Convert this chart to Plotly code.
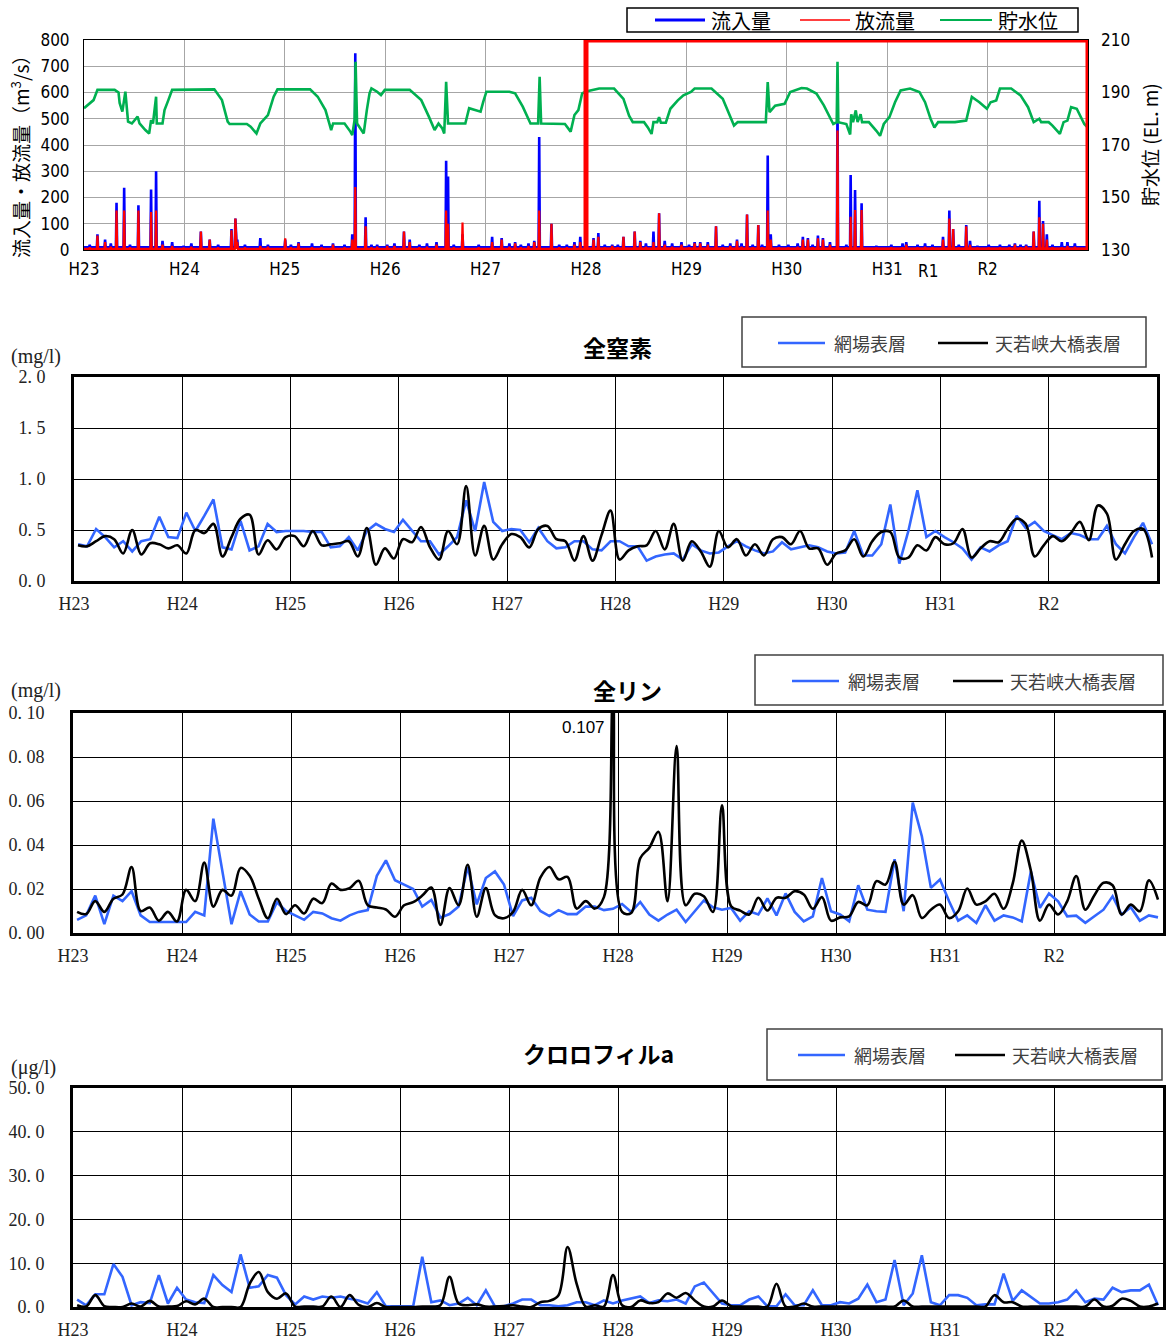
import plotly.graph_objects as go

W, H = 1167, 1342


def X(p):
    return p / W


def Y(p):
    return 1 - p / H


YEARS = list(range(2011, 2021))
YEAR_LABELS = ["H23", "H24", "H25", "H26", "H27", "H28", "H29", "H30", "H31", "R2"]

# ---------------- top panel: inflow / outflow (m3/s) and reservoir level (EL.m)
# (decimal year, inflow peak, outflow peak)
FLOW_EVENTS = [
    (2011.057, 20, 10), (2011.134, 60, 55), (2011.21, 40, 30), (2011.267, 25, 12),
    (2011.324, 180, 150), (2011.40, 237, 150), (2011.458, 20, 10), (2011.542, 170, 150),
    (2011.668, 230, 145), (2011.718, 300, 150), (2011.782, 35, 20), (2011.878, 30, 15),
    (2011.992, 15, 8), (2012.069, 25, 12), (2012.164, 70, 70), (2012.252, 40, 40),
    (2012.336, 20, 10), (2012.469, 80, 75), (2012.508, 120, 120), (2012.527, 40, 30),
    (2012.603, 20, 10), (2012.756, 45, 15), (2012.832, 20, 12), (2013.004, 40, 45),
    (2013.061, 20, 10), (2013.137, 30, 25), (2013.271, 25, 10), (2013.366, 20, 10),
    (2013.48, 25, 20), (2013.595, 20, 10), (2013.672, 60, 40), (2013.702, 750, 240),
    (2013.805, 125, 90), (2013.863, 20, 10), (2013.92, 20, 12), (2014.02, 20, 15),
    (2014.092, 25, 15), (2014.187, 70, 70), (2014.244, 40, 30), (2014.34, 20, 10),
    (2014.416, 25, 12), (2014.511, 30, 20), (2014.607, 340, 150), (2014.626, 280, 100),
    (2014.683, 20, 10), (2014.77, 60, 105), (2014.931, 20, 10), (2015.065, 50, 30),
    (2015.16, 45, 40), (2015.237, 25, 12), (2015.294, 30, 25), (2015.351, 20, 10),
    (2015.427, 25, 15), (2015.485, 35, 30), (2015.534, 430, 150), (2015.656, 100, 100),
    (2015.733, 20, 10), (2015.809, 20, 10), (2015.885, 30, 20), (2015.943, 50, 30),
    (2016.075, 45, 40), (2016.123, 65, 50), (2016.187, 20, 10), (2016.261, 20, 15),
    (2016.317, 20, 10), (2016.373, 50, 50), (2016.485, 70, 70), (2016.541, 35, 30),
    (2016.597, 25, 12), (2016.672, 70, 30), (2016.728, 140, 140), (2016.784, 35, 20),
    (2016.858, 25, 12), (2016.951, 30, 20), (2017.026, 20, 10), (2017.082, 30, 25),
    (2017.138, 30, 25), (2017.213, 30, 20), (2017.295, 90, 90), (2017.362, 20, 10),
    (2017.437, 25, 15), (2017.504, 40, 35), (2017.549, 25, 12), (2017.604, 135, 135),
    (2017.66, 20, 10), (2017.716, 95, 95), (2017.754, 20, 10), (2017.81, 360, 150),
    (2017.84, 60, 40), (2017.922, 20, 10), (2018.015, 20, 10), (2018.108, 25, 12),
    (2018.16, 50, 40), (2018.21, 45, 40), (2018.257, 20, 10), (2018.31, 55, 45),
    (2018.36, 45, 40), (2018.43, 30, 20), (2018.505, 585, 455), (2018.593, 20, 10),
    (2018.636, 286, 127), (2018.68, 229, 152), (2018.745, 178, 152), (2018.892, 15, 8),
    (2019.041, 20, 10), (2019.153, 25, 10), (2019.19, 30, 20), (2019.302, 20, 10),
    (2019.377, 25, 12), (2019.451, 20, 10), (2019.556, 50, 40), (2019.619, 150, 120),
    (2019.657, 80, 80), (2019.713, 20, 10), (2019.787, 95, 90), (2019.825, 35, 20),
    (2019.899, 15, 8), (2020.011, 20, 10), (2020.123, 20, 10), (2020.216, 20, 10),
    (2020.272, 25, 20), (2020.328, 20, 10), (2020.384, 20, 15), (2020.459, 70, 70),
    (2020.515, 188, 125), (2020.552, 110, 100), (2020.59, 60, 40), (2020.646, 20, 10),
    (2020.739, 30, 10), (2020.795, 30, 15), (2020.869, 25, 12),
]
INFLOW_BASE = 10
OUTFLOW_BASE = 4

# (decimal year, level EL.m)
LEVEL = [
    (2011.0, 184.0), (2011.095, 187.1), (2011.134, 191.0), (2011.305, 191.0), (2011.344, 190.0),
    (2011.355, 186.0), (2011.382, 182.7), (2011.412, 190.3), (2011.439, 178.9), (2011.477, 178.2),
    (2011.534, 180.8), (2011.553, 178.2), (2011.611, 175.7), (2011.649, 174.4), (2011.668, 179.5),
    (2011.687, 178.2), (2011.718, 188.4), (2011.725, 178.2), (2011.782, 178.2), (2011.802, 183.3),
    (2011.84, 187.1), (2011.878, 191.0), (2012.298, 191.2), (2012.374, 187.1), (2012.431, 178.9),
    (2012.45, 178.0), (2012.622, 178.0), (2012.66, 177.0), (2012.718, 174.4), (2012.756, 178.2),
    (2012.832, 181.4), (2012.889, 188.4), (2012.927, 191.2), (2013.252, 191.2), (2013.328, 188.4),
    (2013.405, 183.3), (2013.443, 178.2), (2013.462, 175.7), (2013.481, 178.2), (2013.595, 178.2),
    (2013.653, 175.1), (2013.672, 173.8), (2013.695, 179.5), (2013.705, 201.7), (2013.72, 178.2),
    (2013.767, 175.1), (2013.786, 174.4), (2013.817, 183.3), (2013.844, 189.7), (2013.863, 191.6),
    (2013.92, 190.3), (2013.958, 189.0), (2013.996, 191.0), (2014.244, 191.0), (2014.359, 187.1),
    (2014.435, 180.8), (2014.492, 175.7), (2014.531, 178.2), (2014.569, 176.3), (2014.588, 174.4),
    (2014.607, 194.1), (2014.626, 178.2), (2014.798, 178.2), (2014.836, 184.0), (2014.893, 183.3),
    (2014.95, 182.7), (2014.977, 186.5), (2015.008, 190.3), (2015.237, 190.3), (2015.294, 189.7),
    (2015.37, 184.6), (2015.447, 178.2), (2015.523, 178.2), (2015.538, 196.0), (2015.553, 178.2),
    (2015.79, 178.0), (2015.847, 175.1), (2015.885, 181.4), (2015.924, 183.3), (2015.962, 189.7),
    (2016.0, 190.4), (2016.131, 191.5), (2016.28, 191.5), (2016.373, 187.6), (2016.429, 181.2),
    (2016.466, 178.7), (2016.578, 178.7), (2016.616, 176.7), (2016.653, 174.2), (2016.672, 178.7),
    (2016.709, 178.7), (2016.728, 180.6), (2016.746, 178.5), (2016.795, 178.5), (2016.84, 183.8),
    (2016.914, 187.0), (2016.97, 188.9), (2017.045, 190.2), (2017.082, 191.5), (2017.25, 191.5),
    (2017.362, 187.6), (2017.418, 182.5), (2017.474, 177.4), (2017.511, 178.7), (2017.791, 178.7),
    (2017.81, 194.0), (2017.828, 182.5), (2017.884, 185.0), (2017.978, 185.7), (2018.034, 190.2),
    (2018.146, 191.7), (2018.201, 191.5), (2018.295, 189.6), (2018.369, 185.1), (2018.425, 181.2),
    (2018.463, 178.0), (2018.497, 178.7), (2018.505, 201.7), (2018.513, 178.7), (2018.593, 178.0),
    (2018.631, 174.0), (2018.642, 181.7), (2018.66, 178.7), (2018.687, 183.2), (2018.705, 178.7),
    (2018.735, 181.7), (2018.75, 178.7), (2018.817, 178.7), (2018.892, 175.4), (2018.929, 173.5),
    (2018.966, 178.0), (2019.022, 180.6), (2019.078, 186.3), (2019.134, 190.8), (2019.228, 191.5),
    (2019.321, 190.2), (2019.377, 186.3), (2019.433, 179.9), (2019.47, 176.7), (2019.507, 178.7),
    (2019.675, 178.7), (2019.787, 179.3), (2019.843, 188.3), (2019.918, 186.3), (2019.993, 183.8),
    (2020.03, 186.3), (2020.086, 187.0), (2020.123, 191.5), (2020.235, 191.5), (2020.328, 188.9),
    (2020.403, 184.4), (2020.459, 178.7), (2020.515, 180.0), (2020.534, 178.7), (2020.608, 178.7),
    (2020.646, 177.4), (2020.72, 174.2), (2020.757, 178.7), (2020.795, 179.3), (2020.832, 184.4),
    (2020.888, 183.8), (2020.963, 178.0), (2021.0, 176.5),
]

# ---------------- monthly water quality (Jan 2011 .. Dec 2020)
TN_AMIBA = [
    0.36, 0.34, 0.51, 0.43, 0.33, 0.39, 0.29, 0.39, 0.41, 0.63, 0.43, 0.42,
    0.67, 0.49, 0.64, 0.80, 0.33, 0.31, 0.59, 0.30, 0.34, 0.56, 0.48, 0.49,
    0.49, 0.49, 0.48, 0.48, 0.33, 0.34, 0.43, 0.30, 0.49, 0.56, 0.51, 0.48,
    0.60, 0.49, 0.39, 0.39, 0.26, 0.34, 0.43, 0.79, 0.49, 0.97, 0.58, 0.49,
    0.51, 0.50, 0.38, 0.52, 0.39, 0.32, 0.33, 0.39, 0.39, 0.31, 0.30, 0.39,
    0.39, 0.34, 0.34, 0.20, 0.24, 0.26, 0.27, 0.21, 0.36, 0.30, 0.27, 0.28,
    0.34, 0.39, 0.34, 0.30, 0.27, 0.29, 0.38, 0.31, 0.33, 0.35, 0.33, 0.29,
    0.27, 0.28, 0.49, 0.25, 0.25, 0.36, 0.75, 0.17, 0.49, 0.89, 0.43, 0.49,
    0.43, 0.38, 0.32, 0.21, 0.33, 0.29, 0.35, 0.39, 0.64, 0.52, 0.58, 0.49,
    0.45, 0.41, 0.47, 0.45, 0.41, 0.41, 0.54, 0.36, 0.27, 0.43, 0.57, 0.36,
]
TN_TENJAKU = [
    0.35, 0.34, 0.39, 0.44, 0.41, 0.27, 0.50, 0.26, 0.37, 0.36, 0.32, 0.35,
    0.27, 0.50, 0.47, 0.56, 0.24, 0.43, 0.61, 0.65, 0.26, 0.40, 0.31, 0.43,
    0.44, 0.34, 0.49, 0.35, 0.36, 0.37, 0.39, 0.24, 0.52, 0.16, 0.32, 0.22,
    0.41, 0.38, 0.53, 0.33, 0.21, 0.49, 0.36, 0.93, 0.25, 0.54, 0.21, 0.36,
    0.46, 0.43, 0.33, 0.51, 0.54, 0.41, 0.39, 0.20, 0.44, 0.20, 0.45, 0.69,
    0.21, 0.30, 0.34, 0.35, 0.49, 0.31, 0.56, 0.20, 0.39, 0.29, 0.14, 0.49,
    0.33, 0.41, 0.25, 0.36, 0.25, 0.41, 0.43, 0.36, 0.49, 0.32, 0.32, 0.16,
    0.27, 0.30, 0.41, 0.24, 0.39, 0.48, 0.48, 0.23, 0.23, 0.35, 0.30, 0.43,
    0.36, 0.37, 0.51, 0.23, 0.32, 0.39, 0.38, 0.51, 0.61, 0.56, 0.24, 0.35,
    0.44, 0.39, 0.47, 0.58, 0.40, 0.74, 0.66, 0.21, 0.36, 0.49, 0.51, 0.23,
]
TP_AMIBA = [
    0.006, 0.008, 0.017, 0.004, 0.017, 0.0145, 0.019, 0.008, 0.005, 0.005, 0.005, 0.005,
    0.005, 0.0096, 0.008, 0.052, 0.028, 0.004, 0.019, 0.0084, 0.0052, 0.0052, 0.014, 0.010,
    0.008, 0.006, 0.0096, 0.0089, 0.0067, 0.0056, 0.008, 0.0096, 0.0104, 0.026, 0.033, 0.024,
    0.022, 0.020, 0.012, 0.015, 0.007, 0.0086, 0.012, 0.030, 0.013, 0.025, 0.028, 0.022,
    0.0077, 0.0148, 0.016, 0.010, 0.0077, 0.0104, 0.0086, 0.0086, 0.012, 0.012, 0.0104, 0.011,
    0.0132, 0.0096, 0.0141, 0.0084, 0.0056, 0.0084, 0.0106, 0.005, 0.0099, 0.0148, 0.0117, 0.0106,
    0.0114, 0.0056, 0.0099, 0.0084, 0.0157, 0.008, 0.018, 0.0096, 0.0053, 0.0076, 0.025, 0.0099,
    0.0084, 0.0053, 0.0217, 0.0106, 0.0099, 0.0096, 0.0335, 0.0099, 0.0593, 0.044, 0.0205, 0.0243,
    0.0144, 0.0056, 0.008, 0.0046, 0.0126, 0.0056, 0.008, 0.0071, 0.0053, 0.028, 0.0114, 0.018,
    0.0144, 0.0076, 0.0079, 0.0046, 0.0076, 0.0106, 0.0167, 0.0084, 0.0117, 0.0056, 0.008, 0.0071,
]
TP_TENJAKU = [
    0.0096, 0.0086, 0.0145, 0.0096, 0.0156, 0.0175, 0.030, 0.010, 0.0116, 0.0056, 0.0096, 0.0052,
    0.0196, 0.0145, 0.032, 0.012, 0.0196, 0.017, 0.0296, 0.026, 0.0156, 0.0067, 0.0156, 0.0086,
    0.0126, 0.0089, 0.0156, 0.0136, 0.0225, 0.0196, 0.0204, 0.0237, 0.0126, 0.0116, 0.0107, 0.0074,
    0.0126, 0.014, 0.017, 0.0207, 0.0037, 0.0204, 0.0126, 0.031, 0.0074, 0.0204, 0.0081, 0.0067,
    0.0096, 0.0196, 0.0126, 0.0252, 0.030, 0.0244, 0.0255, 0.0111, 0.0145, 0.0111, 0.0163, 0.107,
    0.0096, 0.0091, 0.034, 0.0388, 0.046, 0.0144, 0.085, 0.0126, 0.0178, 0.0167, 0.0096, 0.058,
    0.0122, 0.0102, 0.0084, 0.016, 0.0102, 0.016, 0.016, 0.019, 0.0175, 0.011, 0.0163, 0.0056,
    0.0071, 0.0076, 0.0141, 0.0126, 0.0236, 0.022, 0.0324, 0.0129, 0.0172, 0.0068, 0.0106, 0.0129,
    0.0068, 0.0099, 0.0202, 0.0129, 0.0144, 0.0178, 0.011, 0.0224, 0.042, 0.0284, 0.0056, 0.0129,
    0.0084, 0.0144, 0.0259, 0.0106, 0.0172, 0.0228, 0.0217, 0.0084, 0.0129, 0.0099, 0.0239, 0.0152,
]
CHL_AMIBA = [
    1.7, 0.4, 2.9, 2.9, 9.8, 6.9, 0.4, 1.1, 0.9, 7.3, 0.8, 4.4,
    1.7, 1.1, 0.9, 7.3, 5.0, 3.4, 12.0, 4.4, 4.7, 7.3, 6.7, 2.7,
    0.6, 2.4, 1.7, 2.4, 2.1, 2.4, 1.9, 1.5, 0.8, 3.4, 0.15, 0.15,
    0.15, 0.15, 11.5, 1.1, 1.5, 0.4, 0.8, 2.1, 0.4, 3.8, 0.15, 0.15,
    0.8, 1.7, 1.7, 0.4, 0.4, 0.15, 0.4, 1.1, 1.1, 0.4, 1.5, 0.8,
    1.5, 1.9, 2.4, 0.9, 1.5, 1.3, 1.7, 0.8, 4.7, 5.6, 3.1, 0.8,
    0.4, 0.4, 1.7, 2.4, 0.15, 0.15, 2.9, 0.4, 0.4, 3.8, 0.4, 0.4,
    1.1, 0.8, 1.9, 5.1, 1.1, 1.7, 10.7, 0.4, 3.1, 11.8, 1.1, 0.4,
    2.7, 2.7, 2.1, 0.4, 0.6, 0.6, 7.6, 1.4, 3.8, 2.3, 0.8, 0.8,
    1.1, 1.7, 3.8, 1.1, 1.9, 1.7, 4.4, 3.4, 3.8, 3.8, 5.1, 0.4,
]
CHL_TENJAKU = [
    0.4, 0.1, 2.7, 0.2, 0.0, 0.0, 0.8, 0.1, 1.4, 0.1, 0.1, 0.2,
    1.3, 0.6, 1.9, 0.0, 0.0, 0.0, 0.0, 5.3, 8.0, 3.4, 1.9, 3.1,
    0.1, 0.1, 0.1, 0.1, 2.4, 0.0, 2.7, 0.5, 0.0, 0.9, 0.0, 0.0,
    0.0, 0.0, 0.1, 0.1, 0.4, 6.9, 0.8, 0.4, 0.6, 0.1, 0.1, 0.2,
    0.4, 0.1, 0.0, 1.1, 1.4, 2.7, 13.7, 5.3, 0.1, 0.4, 0.1, 7.3,
    0.4, 0.0, 1.5, 0.9, 1.1, 3.1, 2.1, 3.2, 1.5, 0.1, 0.1, 1.5,
    0.2, 0.1, 0.1, 0.1, 0.1, 5.3, 0.1, 0.1, 0.8, 0.1, 0.1, 0.1,
    0.1, 0.1, 0.1, 0.1, 0.1, 0.1, 0.1, 1.5, 0.1, 0.1, 0.1, 0.1,
    0.1, 0.1, 0.1, 0.1, 0.1, 2.7, 1.1, 1.1, 0.1, 0.1, 0.1, 0.1,
    0.1, 0.1, 0.1, 0.1, 1.7, 0.1, 0.3, 1.9, 1.4, 0.1, 0.1, 0.8,
]

# sampling position of each monthly value (mid-month) on the decimal-year axis
MONTH_X = [2011 + (i + 0.45) / 12 for i in range(len(TN_AMIBA))]


def flow_series(which, base):
    xs, ys = [2011.0], [base]
    for ev in sorted(FLOW_EVENTS):
        t, peak = ev[0], ev[which]
        xs += [t - 0.006, t, t + 0.006]
        ys += [base, peak, base]
    xs.append(2021.0)
    ys.append(base)
    return xs, ys


in_x, in_y = flow_series(1, INFLOW_BASE)
out_x, out_y = flow_series(2, OUTFLOW_BASE)
lev_x = [p[0] for p in LEVEL]
lev_y = [p[1] for p in LEVEL]

NARROW = "Liberation Sans Narrow, Arial Narrow, DejaVu Sans Condensed, Liberation Sans, sans-serif"
SERIF = "Liberation Serif, DejaVu Serif, serif"
JP = "Noto Sans CJK JP, Noto Sans, sans-serif"

BLUE_WQ = "#3366FF"

fig = go.Figure()
fig.add_trace(go.Scatter(x=in_x, y=in_y, mode="lines", name="流入量", xaxis="x", yaxis="y",
                         line=dict(color="#0000FF", width=2.6), showlegend=False))
fig.add_trace(go.Scatter(x=out_x, y=out_y, mode="lines", name="放流量", xaxis="x", yaxis="y",
                         line=dict(color="#FF0000", width=2.2), showlegend=False))
fig.add_trace(go.Scatter(x=lev_x, y=lev_y, mode="lines", name="貯水位", xaxis="x", yaxis="y2",
                         line=dict(color="#00B050", width=2.6), showlegend=False))

panels = [
    ("x2", "y3", TN_AMIBA, TN_TENJAKU),
    ("x3", "y4", TP_AMIBA, TP_TENJAKU),
    ("x4", "y5", CHL_AMIBA, CHL_TENJAKU),
]
for xa, ya, blue, black in panels:
    fig.add_trace(go.Scatter(x=MONTH_X, y=blue, mode="lines", name="網場表層", xaxis=xa, yaxis=ya,
                             line=dict(color=BLUE_WQ, width=2.6), showlegend=False))
    fig.add_trace(go.Scatter(x=MONTH_X, y=black, mode="lines", name="天若峡大橋表層", xaxis=xa, yaxis=ya,
                             line=dict(color="#000000", width=2.6, shape="spline", smoothing=1.0),
                             showlegend=False))

top_tick = dict(family=NARROW, size=17, color="#000000")
wq_tick = dict(family=SERIF, size=18, color="#222222")


def wq_xaxis(x0, x1, anchor):
    return dict(domain=[X(x0), X(x1)], anchor=anchor, range=[2011, 2021], tickvals=YEARS,
                ticktext=YEAR_LABELS, showgrid=True, gridcolor="#000000", gridwidth=1,
                showline=True, linecolor="#000000", linewidth=2.6, mirror=True, ticks="",
                tickfont=wq_tick, zeroline=False, ticklabelstandoff=5, automargin=False)


def wq_yaxis(y0, y1, anchor, rng, vals, texts):
    return dict(domain=[Y(y1), Y(y0)], anchor=anchor, range=rng, tickvals=vals, ticktext=texts,
                showgrid=True, gridcolor="#000000", gridwidth=1, showline=True,
                linecolor="#000000", linewidth=2.6, mirror=True, ticks="", tickfont=wq_tick,
                zeroline=False, ticklabelstandoff=22, automargin=False)


layout = dict(
    width=W, height=H, margin=dict(l=0, r=0, t=0, b=0, pad=0, autoexpand=False),
    paper_bgcolor="white", plot_bgcolor="white", showlegend=False,
    xaxis=dict(domain=[X(84), X(1088)], anchor="y", range=[2011, 2021], tickvals=YEARS,
               ticktext=YEAR_LABELS, showgrid=True, gridcolor="#A6A6A6", gridwidth=1,
               showline=True, linecolor="#000000", linewidth=1, mirror=True, ticks="",
               tickfont=top_tick, zeroline=False, ticklabelstandoff=4, automargin=False),
    yaxis=dict(domain=[Y(250), Y(40)], anchor="x", range=[0, 800], dtick=100, showgrid=True,
               gridcolor="#A6A6A6", gridwidth=1, showline=True, linecolor="#000000", linewidth=1,
               mirror=True, ticks="", tickfont=top_tick, zeroline=False, ticklabelstandoff=10,
               automargin=False),
    yaxis2=dict(overlaying="y", side="right", anchor="x", range=[130, 210],
                tickvals=[130, 150, 170, 190, 210], showgrid=False, zeroline=False,
                showline=False, ticks="", tickfont=top_tick, ticklabelstandoff=12,
                automargin=False),
    xaxis2=wq_xaxis(74, 1157, "y3"),
    yaxis3=wq_yaxis(377, 581, "x2", [0, 2.0], [0, 0.5, 1.0, 1.5, 2.0],
                    ["0. 0", "0. 5", "1. 0", "1. 5", "2. 0"]),
    xaxis3=wq_xaxis(73, 1163, "y4"),
    yaxis4=wq_yaxis(713, 933, "x3", [0, 0.10], [0, 0.02, 0.04, 0.06, 0.08, 0.10],
                    ["0. 00", "0. 02", "0. 04", "0. 06", "0. 08", "0. 10"]),
    xaxis4=wq_xaxis(73, 1163, "y5"),
    yaxis5=wq_yaxis(1088, 1307, "x4", [0, 50], [0, 10, 20, 30, 40, 50],
                    ["0. 0", "10. 0", "20. 0", "30. 0", "40. 0", "50. 0"]),
)
fig.update_layout(**layout)

shapes = []
annotations = []

# red highlight rectangle H28 -> end
shapes.append(dict(type="rect", xref="x", yref="y", x0=2016, x1=2021, y0=0, y1=800,
                   line=dict(color="#FF0000", width=5), fillcolor="rgba(0,0,0,0)", layer="above"))


def txt(text, x, y, size, family=JP, color="#000000", xanchor="left", angle=0):
    annotations.append(dict(text=text, x=X(x), y=Y(y), xref="paper", yref="paper",
                            showarrow=False, xanchor=xanchor, yanchor="middle", textangle=angle,
                            font=dict(family=family, size=size, color=color)))


def legline(x0, x1, y, color, width):
    shapes.append(dict(type="line", xref="paper", yref="paper", x0=X(x0), x1=X(x1),
                       y0=Y(y), y1=Y(y), line=dict(color=color, width=width)))


def legbox(x0, x1, y0, y1, width=1.5, color="#404040"):
    shapes.append(dict(type="rect", xref="paper", yref="paper", x0=X(x0), x1=X(x1),
                       y0=Y(y1), y1=Y(y0), line=dict(color=color, width=width),
                       fillcolor="white", layer="below"))


# top legend
legbox(627, 1078, 8, 32, width=1.5, color="#000000")
legline(655, 705, 20, "#0000FF", 3)
txt("流入量", 709, 20, 20)
legline(800, 850, 20, "#FF0000", 1.5)
txt("放流量", 853, 20, 20)
legline(940, 992, 20, "#00B050", 2)
txt("貯水位", 996, 20, 20)

# top axis titles
txt("流入量・放流量（m<sup>3</sup>/s）", 20, 152, 19, xanchor="center", angle=-90)
txt("貯水位 (EL. m)", 1150, 145, 19, xanchor="center", angle=-90)
annotations.append(dict(text="R1", x=2019.41, y=Y(271), xref="x", yref="paper", showarrow=False,
                        xanchor="center", yanchor="middle", font=top_tick))

# water quality panels: titles, units, legends
wq_panels = [
    ("全窒素", 617, 347, "(mg/l)", 357, (742, 1146, 317, 367), 343, 778, 993),
    ("全リン", 627, 690, "(mg/l)", 690, (755, 1163, 655, 705), 681, 792, 1008),
    ("クロロフィルa", 598, 1053, "(μg/l)", 1067, (767, 1162, 1029, 1080), 1055, 798, 1010),
]
for title, tx, ty, unit, uy, box, ly, bx, kx in wq_panels:
    txt("<b>" + title + "</b>", tx, ty, 23, xanchor="center")
    txt(unit, 9, uy, 20, family=SERIF, color="#222222")
    legbox(*box)
    legline(bx, bx + 47, ly, BLUE_WQ, 2.6)
    txt("網場表層", bx + 54, ly, 18, color="#404040")
    legline(kx - 55, kx - 5, ly, "#000000", 2.6)
    txt("天若峡大橋表層", kx, ly, 18, color="#404040")

txt("0.107", 583, 727, 17, family="Liberation Sans, Arial, sans-serif", xanchor="center")

fig.update_layout(shapes=shapes, annotations=annotations)
fig.write_html("out.html", config={"displayModeBar": False},
               post_script="document.body.style.margin='0';document.body.style.padding='0';")
